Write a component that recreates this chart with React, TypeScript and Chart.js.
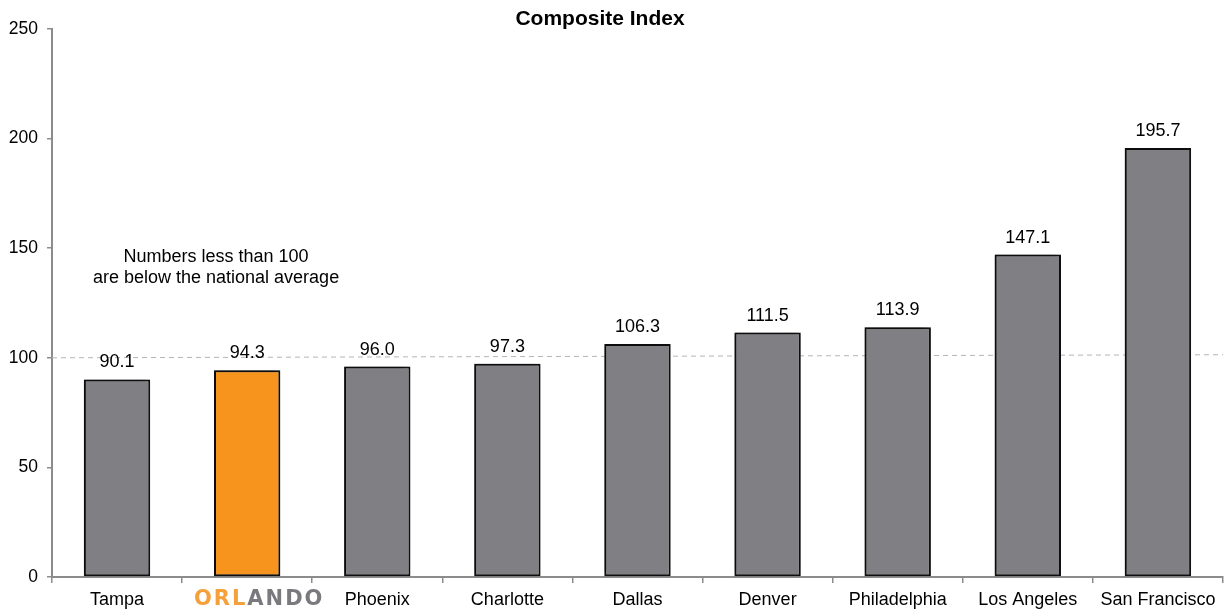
import React, { useEffect, useRef } from "react";
import { Chart, registerables } from "chart.js";

Chart.register(...registerables);

const categories = ["Tampa", "Orlando", "Phoenix", "Charlotte", "Dallas", "Denver", "Philadelphia", "Los Angeles", "San Francisco"];
const values = [90.1, 94.3, 96.0, 97.3, 106.3, 111.5, 113.9, 147.1, 195.7];
const highlight = "Orlando";
const yTicks = [0, 50, 100, 150, 200, 250];
const refLineStart = 100;
const refLineEnd = 101.4;
const noteLines = ["Numbers less than 100", "are below the national average"];
const titleText = "Composite Index";

const GRAY = "#808084";
const ORANGE = "#F7941E";
const FONT = "'Liberation Sans', Arial, sans-serif";

export default function App() {
  const ref = useRef<HTMLCanvasElement | null>(null);

  useEffect(() => {
    if (!ref.current) return;

    const shadowPlugin = {
      id: "shadow",
      beforeDatasetDraw(chart: any) {
        const ctx = chart.ctx;
        ctx.save();
        ctx.shadowColor = "rgba(0,0,0,0.5)";
        ctx.shadowBlur = 6;
        ctx.shadowOffsetX = -3;
        ctx.shadowOffsetY = -1;
      },
      afterDatasetDraw(chart: any) {
        chart.ctx.restore();
      },
    };

    const overlay = {
      id: "overlay",
      beforeDatasetsDraw(chart: any) {
        const { ctx, chartArea, scales } = chart;
        const y = scales.y;
        ctx.save();
        ctx.strokeStyle = "#b4b4b4";
        ctx.lineWidth = 1;
        ctx.setLineDash([5, 4]);
        ctx.beginPath();
        ctx.moveTo(chartArea.left, y.getPixelForValue(refLineStart));
        ctx.lineTo(chartArea.right, y.getPixelForValue(refLineEnd));
        ctx.stroke();
        ctx.restore();
      },
      afterDraw(chart: any) {
        const { ctx, scales } = chart;
        const x = scales.x;
        const y = scales.y;
        ctx.save();
        // title
        ctx.fillStyle = "#000";
        ctx.font = `bold 21px ${FONT}`;
        ctx.textAlign = "center";
        ctx.textBaseline = "middle";
        ctx.fillText(titleText, 600, 19);

        // data labels
        ctx.font = `18px ${FONT}`;
        const meta = chart.getDatasetMeta(0);
        meta.data.forEach((bar: any, i: number) => {
          ctx.fillText(values[i].toFixed(1), bar.x, bar.y - 17);
        });

        // note
        const noteX = x.getPixelForValue(0) + 99;
        ctx.font = `18px ${FONT}`;
        ctx.fillText(noteLines[0], noteX, y.getPixelForValue(146));
        ctx.fillText(noteLines[1], noteX, y.getPixelForValue(136.5));

        // Orlando logo label
        const idx = categories.indexOf(highlight);
        const cx = x.getPixelForValue(idx) + 11;
        const cy = 600;
        ctx.font = `bold 21px 'DejaVu Sans', ${FONT}`;
        ctx.textBaseline = "middle";
        ctx.textAlign = "left";
        const word = "ORLANDO";
        const spacing = 2;
        const widths = word.split("").map((c) => ctx.measureText(c).width);
        const total = widths.reduce((a, b) => a + b, 0) + spacing * (word.length - 1);
        let px = cx - total / 2;
        word.split("").forEach((c, i) => {
          ctx.fillStyle = i < 3 ? "#F5A03A" : "#7a7a7e";
          ctx.fillText(c, px, cy);
          px += widths[i] + spacing;
        });
        ctx.restore();
      },
    };

    const chart = new Chart(ref.current, {
      type: "bar",
      data: {
        labels: categories,
        datasets: [
          {
            data: values,
            backgroundColor: categories.map((c) => (c === highlight ? ORANGE : GRAY)),
            borderColor: "#111",
            borderWidth: 2,
            borderSkipped: false,
            categoryPercentage: 1,
            barPercentage: 0.51,
          },
        ],
      },
      options: {
        animation: false,
        responsive: true,
        maintainAspectRatio: false,
        layout: { padding: { top: 29, right: 2, left: 0, bottom: 0 } },
        plugins: {
          legend: { display: false },
          tooltip: { enabled: false },
          title: { display: false },
        },
        scales: {
          x: {
            afterFit: (s: any) => {
              s.height = 36;
            },
            border: { display: true, color: "#8c8c8c", width: 2 },
            grid: {
              offset: true,
              drawOnChartArea: false,
              drawTicks: true,
              tickLength: 6,
              color: "#8c8c8c",
              lineWidth: 1.5,
            },
            ticks: {
              color: "#000",
              font: { family: FONT, size: 18 },
              padding: 6,
              maxRotation: 0,
              autoSkip: false,
              callback: (_v: any, i: number) => (categories[i] === highlight ? "" : categories[i]),
            },
          },
          y: {
            min: 0,
            max: 250,
            afterFit: (s: any) => {
              s.width = 52;
            },
            afterBuildTicks: (s: any) => {
              s.ticks = yTicks.map((v) => ({ value: v }));
            },
            border: { display: true, color: "#8c8c8c", width: 2 },
            grid: {
              drawOnChartArea: false,
              drawTicks: true,
              tickLength: 5,
              color: "#8c8c8c",
              lineWidth: 1.5,
            },
            ticks: {
              color: "#000",
              font: { family: FONT, size: 17.5 },
              padding: 9,
            },
          },
        },
      },
      plugins: [shadowPlugin, overlay],
    });

    return () => chart.destroy();
  }, []);

  return (
    <div style={{ position: "fixed", left: 0, top: 0, width: 1225, height: 613, background: "#fff" }}>
      <canvas ref={ref} />
    </div>
  );
}
